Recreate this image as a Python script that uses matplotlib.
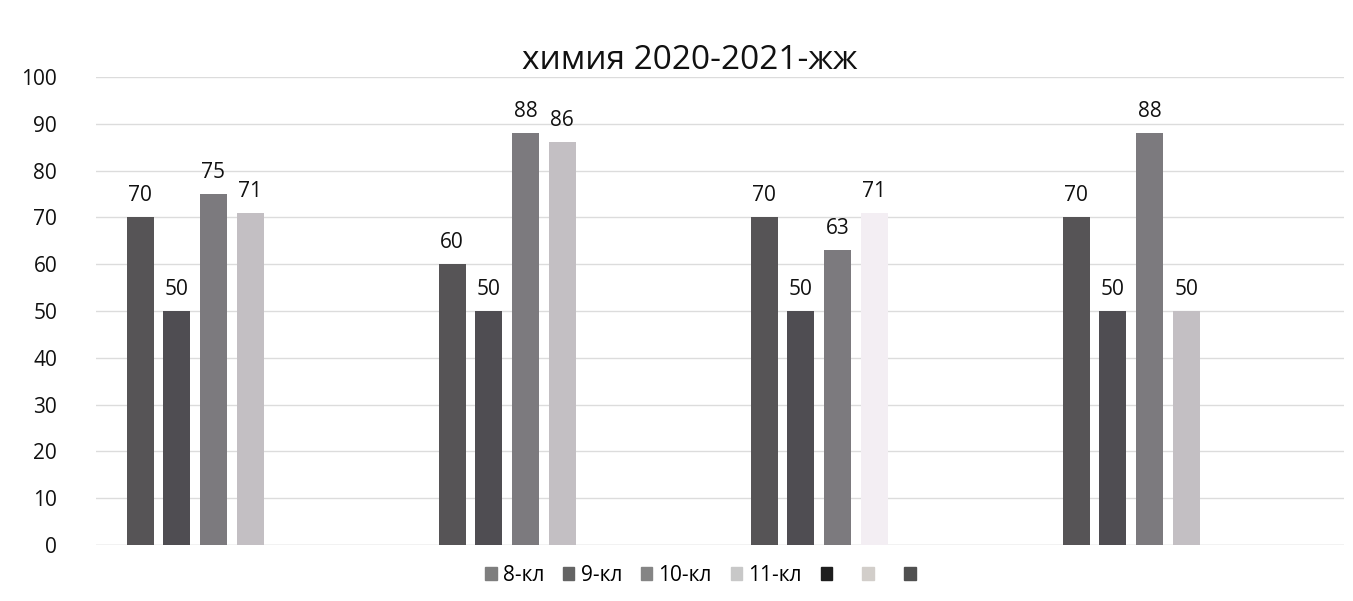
import matplotlib.pyplot as plt
import numpy as np

plt.rcParams['font.family'] = ['Open Sans', 'DejaVu Sans']

# ---------------------------
# Data
# ---------------------------
groups = ["", "", "", ""]
series_names = ["8-кл", "9-кл", "10-кл", "11-кл", " ", " ", " "]
kl8 = [70, 60, 70, 70]
kl9 = [50, 50, 50, 50]
kl10 = [75, 88, 63, 88]
kl11 = [71, 86, 71, 50]
empty = [np.nan, np.nan, np.nan, np.nan]
values = [kl8, kl9, kl10, kl11, empty, empty, empty]

bar_colors = ["#565456", "#4f4d52", "#7c7a7e", "#c3bfc3", "#1e1e1e", "#d2ceca", "#505050"]
legend_colors = ["#7e7e7e", "#646464", "#858585", "#c8c8c8", "#1e1e1e", "#d2ceca", "#505050"]
# faint 11-кл bar in the third group
special_colors = {(3, 2): "#f3eef3"}

fig = plt.figure(figsize=(13.53, 6.01), dpi=100)
ax = fig.add_axes([0.0710, 0.0932, 0.9224, 0.7788])

n = len(series_names)
x = np.arange(len(groups))
bar_step = 0.1176
bar_w = 0.0865
start = -0.5 + 0.141

for i, (name, vals) in enumerate(zip(series_names, values)):
    for j, v in enumerate(vals):
        if np.isnan(v):
            continue
        c = special_colors.get((i, j), bar_colors[i])
        xpos = x[j] + start + i * bar_step
        ax.bar(xpos, v, width=bar_w, color=c, zorder=3)
        ax.annotate(f"{v:g}", (xpos, v), xytext=(0, 8), textcoords="offset points",
                    ha="center", va="bottom", fontsize=15, color="#111111")

ax.set_xlim(-0.5, len(groups) - 0.5)
ax.set_ylim(0, 100)
ax.set_yticks(np.arange(0, 101, 10))
ax.set_xticks([])
ax.tick_params(axis='y', length=0, labelsize=15, pad=28, labelcolor="#111111")
for s in ax.spines.values():
    s.set_visible(False)
ax.grid(axis='y', color="#dcdcdc", linewidth=1, zorder=0)
ax.axhline(0, color="#dcdcdc", linewidth=1, zorder=1)

fig.text(0.51, 0.9, "химия 2020-2021-жж", ha="center", va="center", fontsize=24, color="#111111")

handles = [plt.Rectangle((0, 0), 1, 1, color=c) for c in legend_colors]
fig.legend(handles, series_names, loc="center", bbox_to_anchor=(0.522, 0.043), ncol=n,
           frameon=False, fontsize=15, handlelength=0.55, handleheight=0.55,
           handletextpad=0.3, columnspacing=0.9)

fig.savefig("out.png", dpi=100)
